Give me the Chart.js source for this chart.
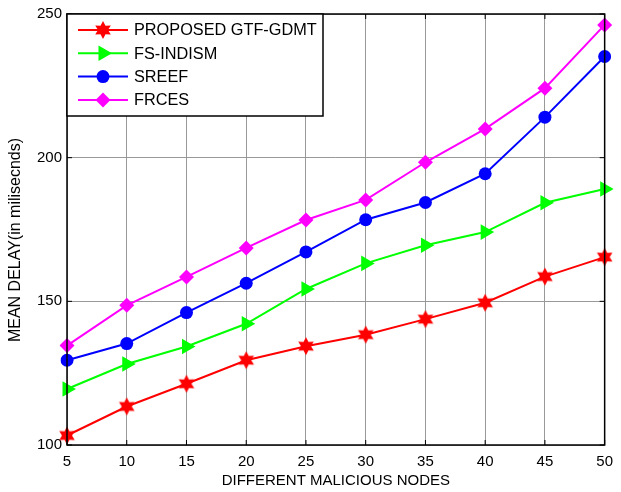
<!DOCTYPE html>
<html>
<head>
<meta charset="utf-8">
<script src="https://cdn.jsdelivr.net/npm/chart.js@4/dist/chart.umd.min.js"></script>
<style>
    html, body { margin: 0; padding: 0; background: #fff; }
    #wrap { width: 621px; height: 492px; }
</style>
</head>
<body>
<div id="wrap"><canvas id="line"></canvas></div>
<script>
// data
var nodes = [5, 10, 15, 20, 25, 30, 35, 40, 45, 50];
var gtfGdmt = [103.3, 113.4, 121.3, 129.5, 134.4, 138.4, 143.8, 149.5, 158.6, 165.4];
var fsIndism = [119.5, 128.2, 134.3, 142.2, 154.3, 163.2, 169.5, 174.1, 184.3, 189.1];
var sreef = [129.5, 135.3, 146.1, 156.3, 167.2, 178.4, 184.4, 194.4, 214.1, 235.2];
var frces = [134.6, 148.6, 158.5, 168.6, 178.3, 185.3, 198.4, 210.0, 224.2, 246.2];
var yTicks = [100, 150, 200, 250];

var FONT = "'Liberation Sans', Arial, sans-serif";

// hexagram marker (MATLAB 'h')
function makeStar(color) {
    var c = document.createElement("canvas");
    c.width = 20;
    c.height = 20;
    var ctx = c.getContext("2d");
    ctx.fillStyle = color;
    ctx.beginPath();
    for (var i = 0; i < 12; i++) {
        var r = (i % 2 == 0) ? 9 : 5;
        var a = -Math.PI / 2 + i * Math.PI / 6;
        var px = 10 + r * Math.cos(a), py = 10 + r * Math.sin(a);
        if (i == 0) ctx.moveTo(px, py); else ctx.lineTo(px, py);
    }
    ctx.closePath();
    ctx.fill();
    return c;
}
var starImg = makeStar("#ff0000");

function drawMarker(ctx, ds, x, y) {
    var r = ds.pointRadius;
    ctx.fillStyle = ds.pointBackgroundColor;
    ctx.beginPath();
    if (ds.pointStyle === "circle") {
        ctx.arc(x, y, r, 0, Math.PI * 2);
    } else if (ds.pointStyle === "rectRot") {
        ctx.moveTo(x, y - r);
        ctx.lineTo(x + r, y);
        ctx.lineTo(x, y + r);
        ctx.lineTo(x - r, y);
    } else if (ds.pointStyle === "triangle") {
        for (var i = 0; i < 3; i++) {
            var a = i * 2 * Math.PI / 3;
            var px = x + Math.cos(a) * r, py = y + Math.sin(a) * r;
            if (i == 0) ctx.moveTo(px, py); else ctx.lineTo(px, py);
        }
    } else {
        ctx.drawImage(ds.pointStyle, x - 10, y - 10);
        return;
    }
    ctx.closePath();
    ctx.fill();
}

// box, legend and axis titles drawn the matlab way
var matlabBits = {
    id: "matlabBits",
    afterDatasetsDraw: function (chart) {
        var ctx = chart.ctx;
        var a = chart.chartArea;
        ctx.save();
        ctx.strokeStyle = "#000";
        ctx.lineWidth = 1.5;
        ctx.strokeRect(a.left, a.top, a.right - a.left, a.bottom - a.top);

        // small inward ticks
        ctx.lineWidth = 1;
        var xs = chart.scales.x, ys = chart.scales.y;
        nodes.forEach(function (n, i) {
            var px = xs.getPixelForValue(i);
            ctx.beginPath();
            ctx.moveTo(px, a.bottom); ctx.lineTo(px, a.bottom - 5);
            ctx.moveTo(px, a.top); ctx.lineTo(px, a.top + 5);
            ctx.stroke();
        });
        yTicks.forEach(function (v) {
            var py = ys.getPixelForValue(v);
            ctx.beginPath();
            ctx.moveTo(a.left, py); ctx.lineTo(a.left + 5, py);
            ctx.moveTo(a.right, py); ctx.lineTo(a.right - 5, py);
            ctx.stroke();
        });

        // legend
        var bx = a.left, by = a.top, bw = 256, bh = 102;
        ctx.fillStyle = "#fff";
        ctx.fillRect(bx, by, bw, bh);
        ctx.lineWidth = 1.5;
        ctx.strokeRect(bx, by, bw, bh);
        ctx.font = "16.3px " + FONT;
        ctx.textBaseline = "middle";
        chart.data.datasets.forEach(function (ds, i) {
            var ry = by + 16 + i * 23.3;
            ctx.strokeStyle = ds.borderColor;
            ctx.lineWidth = 2;
            ctx.beginPath();
            ctx.moveTo(bx + 11, ry); ctx.lineTo(bx + 61, ry);
            ctx.stroke();
            drawMarker(ctx, ds, bx + 36, ry);
            ctx.fillStyle = "#000";
            ctx.fillText(ds.label, bx + 67, ry + 1);
        });

        // axis titles
        ctx.fillStyle = "#000";
        ctx.textAlign = "center";
        ctx.font = "15px " + FONT;
        ctx.fillText("DIFFERENT MALICIOUS NODES", (a.left + a.right) / 2, 481);
        ctx.translate(16, 240);
        ctx.rotate(-Math.PI / 2);
        ctx.font = "16px " + FONT;
        ctx.fillText("MEAN DELAY(in milisecnds)", 0, 0);
        ctx.restore();
    }
};

var lineChart = new Chart(document.getElementById("line"), {
    type: "line",
    data: {
        labels: nodes,
        datasets: [
            {
                label: "PROPOSED GTF-GDMT",
                data: gtfGdmt,
                borderColor: "#ff0000",
                pointBackgroundColor: "#ff0000",
                pointStyle: starImg,
                pointRadius: 8
            },
            {
                label: "FS-INDISM",
                data: fsIndism,
                borderColor: "#00ff00",
                pointBackgroundColor: "#00ff00",
                pointStyle: "triangle",
                pointRotation: 90,
                pointRadius: 9
            },
            {
                label: "SREEF",
                data: sreef,
                borderColor: "#0000ff",
                pointBackgroundColor: "#0000ff",
                pointStyle: "circle",
                pointRadius: 6.5
            },
            {
                label: "FRCES",
                data: frces,
                borderColor: "#ff00ff",
                pointBackgroundColor: "#ff00ff",
                pointStyle: "rectRot",
                pointRadius: 7.5
            }
        ]
    },
    options: {
        responsive: true,
        maintainAspectRatio: false,
        animation: false,
        events: [],
        layout: { padding: { left: 0, right: 10, top: 14, bottom: 0 } },
        elements: {
            line: { borderWidth: 2, tension: 0, fill: false },
            point: { borderWidth: 0, hoverRadius: 0 }
        },
        plugins: {
            legend: { display: false },
            tooltip: { enabled: false }
        },
        scales: {
            x: {
                type: "category",
                offset: false,
                grid: { color: "#999999", drawTicks: false, lineWidth: 1 },
                border: { display: false },
                ticks: { color: "#000", font: { family: FONT, size: 15 }, padding: 8, maxRotation: 0, autoSkip: false },
                afterFit: function (s) { s.height = 47; }
            },
            y: {
                min: 100,
                max: 250,
                afterBuildTicks: function (s) { s.ticks = yTicks.map(function (v) { return { value: v }; }); },
                grid: { color: "#999999", drawTicks: false, lineWidth: 1 },
                border: { display: false },
                ticks: { color: "#000", font: { family: FONT, size: 15 }, padding: 5 },
                afterFit: function (s) { s.width = 67; }
            }
        }
    },
    plugins: [matlabBits]
});
</script>
</body>
</html>
